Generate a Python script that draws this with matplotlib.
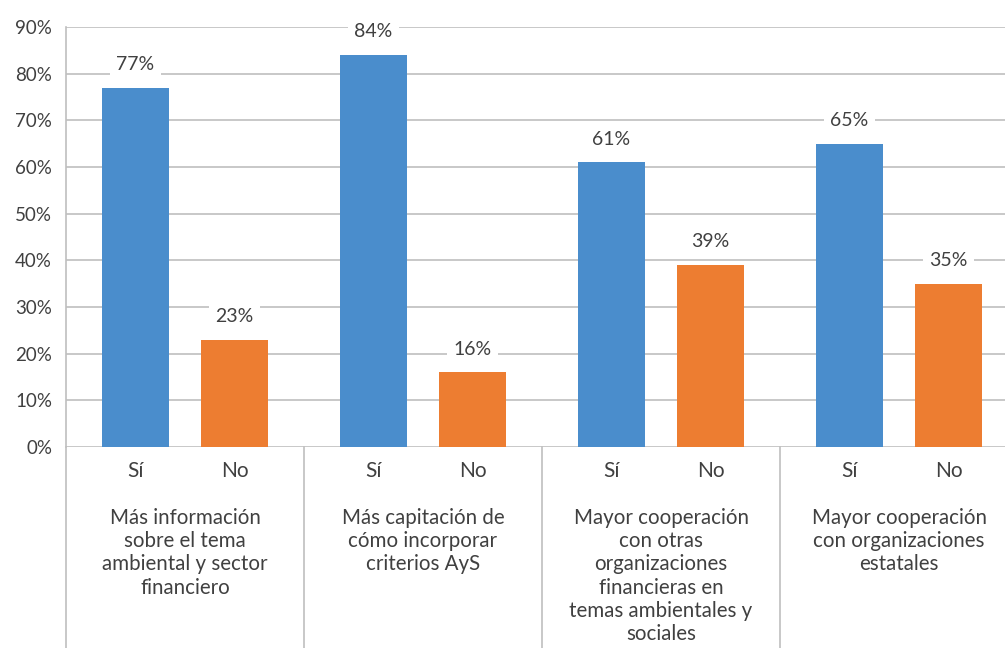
import matplotlib
matplotlib.use("Agg")
import matplotlib.pyplot as plt
from matplotlib.transforms import blended_transform_factory

plt.rcParams['font.family'] = ['Lato', 'DejaVu Sans']

categories = [
    "Más información\nsobre el tema\nambiental y sector\nfinanciero",
    "Más capitación de\ncómo incorporar\ncriterios AyS",
    "Mayor cooperación\ncon otras\norganizaciones\nfinancieras en\ntemas ambientales y\nsociales",
    "Mayor cooperación\ncon organizaciones\nestatales",
]
answers = ["Sí", "No"]
si_values = [77, 84, 61, 65]
no_values = [23, 16, 39, 35]
yticks = [0, 10, 20, 30, 40, 50, 60, 70, 80, 90]

blue = "#4A8DCC"
orange = "#ED7D31"
grid_c = "#BFBFBF"
text_c = "#404040"

W, H = 1005, 648
fig = plt.figure(figsize=(W / 100, H / 100), dpi=100)
left, right, top, bottom = 66, 1018, 27, 447
ax = fig.add_axes([left / W, 1 - bottom / H, (right - left) / W, (bottom - top) / H])

bw = 0.571
off = 0.416
xpos = []
for i in range(len(categories)):
    for j, (vals, col) in enumerate([(si_values, blue), (no_values, orange)]):
        x = 2 * i + 0.5 + (off if j else -off)
        xpos.append(x)
        v = vals[i]
        ax.bar(x, v, width=bw, color=col, zorder=2)
        ax.annotate(f"{v}%", (x, v), xytext=(0, 10.5), textcoords="offset points",
                    ha="center", va="bottom", fontsize=14, color=text_c, zorder=4,
                    bbox=dict(boxstyle="square,pad=0.35", fc="white", ec="none"))

ax.set_xlim(-0.5, 7.5)
ax.set_ylim(0, 90)
ax.set_yticks(yticks)
ax.set_yticklabels([f"{t}%" for t in yticks], fontsize=13.5, color=text_c)
ax.yaxis.grid(True, color=grid_c, linewidth=1.2, zorder=0)
ax.set_axisbelow(True)
ax.tick_params(axis='y', length=0, pad=10)
ax.set_xticks(xpos)
ax.set_xticklabels(answers * 4, fontsize=15, color=text_c)
ax.tick_params(axis='x', length=0, pad=10)
for s in ["top", "right", "bottom"]:
    ax.spines[s].set_visible(False)
ax.spines["left"].set_color(grid_c)
ax.spines["left"].set_linewidth(1.2)

trans = blended_transform_factory(ax.transData, ax.transAxes)
ext = -(H - bottom) / (bottom - top)
for xs in [-0.5, 1.5, 3.5, 5.5, 7.5]:
    ax.plot([xs, xs], [0, ext], transform=trans, color=grid_c, lw=1.2, clip_on=False)

for i, cat in enumerate(categories):
    ax.text(2 * i + 0.5, -61 / (bottom - top), cat, transform=trans, ha="center", va="top",
            fontsize=14.8, color=text_c, linespacing=1.2)

fig.savefig("out.png", dpi=100)
